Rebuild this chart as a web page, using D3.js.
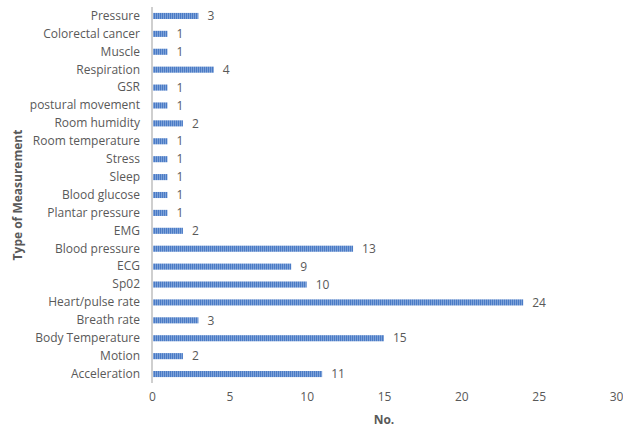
<!DOCTYPE html>
<html>
<head>
<meta charset="utf-8">
<script src="https://cdn.jsdelivr.net/npm/d3@7"></script>
<style>
  body { margin: 0; background: #fff; }
  text { font-family: "Open Sans", "Liberation Sans", sans-serif; fill: #595959; }
</style>
</head>
<body>
<div id="chart-area"></div>
<script>
// categories from bottom to top
const categories = ["Acceleration", "Motion", "Body Temperature", "Breath rate", "Heart/pulse rate",
  "Sp02", "ECG", "Blood pressure", "EMG", "Plantar pressure", "Blood glucose", "Sleep", "Stress",
  "Room temperature", "Room humidity", "postural movement", "GSR", "Respiration", "Muscle",
  "Colorectal cancer", "Pressure"]
const counts = [11, 2, 15, 3, 24, 10, 9, 13, 2, 1, 1, 1, 1, 1, 2, 1, 1, 4, 1, 1, 3]
const xTicks = [0, 5, 10, 15, 20, 25, 30]

const W = 623, H = 429
const LEFT = 152, RIGHT = 616, TOP = 7, BOTTOM = 383

const svg = d3.select("#chart-area").append("svg")
  .attr("width", W)
  .attr("height", H)

// striped fill like the original bars
const pat = svg.append("defs").append("pattern")
  .attr("id", "stripes")
  .attr("patternUnits", "userSpaceOnUse")
  .attr("width", 2)
  .attr("height", 4)
pat.append("rect").attr("width", 2).attr("height", 4).attr("fill", "#7ea2d8")
pat.append("rect").attr("width", 1).attr("height", 4).attr("fill", "#4a7bc6")

const x = d3.scaleLinear()
  .domain([0, 30])
  .range([LEFT, RIGHT])

const y = d3.scaleBand()
  .domain(categories.slice().reverse())
  .range([TOP, BOTTOM])
  .paddingInner(0.66)
  .paddingOuter(0.33)

// Bars
svg.selectAll("rect.bar")
  .data(categories)
  .enter().append("rect")
    .attr("class", "bar")
    .attr("x", x(0) + 1)
    .attr("y", d => y(d))
    .attr("width", (d, i) => x(counts[i]) - x(0) - 1)
    .attr("height", y.bandwidth())
    .attr("fill", "url(#stripes)")

// Value labels
svg.selectAll("text.val")
  .data(categories)
  .enter().append("text")
    .attr("class", "val")
    .attr("x", (d, i) => x(counts[i]) + 9)
    .attr("y", d => y(d) + y.bandwidth() / 2)
    .attr("dy", "0.35em")
    .attr("font-size", 12)
    .text((d, i) => counts[i])

// Category axis
const leftAxis = d3.axisLeft(y).tickSize(0).tickPadding(12)
const gy = svg.append("g")
  .attr("transform", `translate(${LEFT}, 0)`)
  .call(leftAxis)
gy.select(".domain").attr("stroke", "#bfbfbf").attr("stroke-width", 1.5)
  .attr("d", `M0,${TOP}V${BOTTOM}`)
gy.selectAll("text").attr("font-size", 12).attr("fill", "#595959")

// Value axis (labels only)
const bottomAxis = d3.axisBottom(x).tickValues(xTicks).tickSize(0).tickPadding(8)
const gx = svg.append("g")
  .attr("transform", `translate(0, ${BOTTOM + 1})`)
  .call(bottomAxis)
gx.select(".domain").remove()
gx.selectAll("text").attr("font-size", 12).attr("fill", "#595959")

// Axis titles
svg.append("text")
  .attr("text-anchor", "middle")
  .attr("font-weight", "bold")
  .attr("font-size", 12)
  .attr("x", (LEFT + RIGHT) / 2)
  .attr("y", 424)
  .text("No.")

svg.append("text")
  .attr("text-anchor", "middle")
  .attr("font-weight", "bold")
  .attr("font-size", 12)
  .attr("transform", `translate(22, ${(TOP + BOTTOM) / 2}) rotate(-90)`)
  .text("Type of Measurement")
</script>
</body>
</html>
